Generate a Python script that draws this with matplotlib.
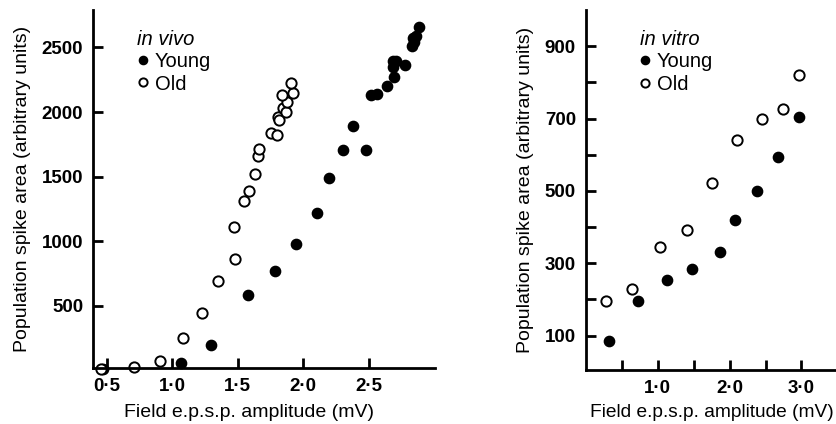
#!/usr/bin/env python3

import matplotlib
matplotlib.use("Agg")
import matplotlib.pyplot as plt
from matplotlib.ticker import FixedLocator

plt.rcParams["font.family"] = ["Liberation Sans", "DejaVu Sans"]

# in vivo panel (field e.p.s.p. in mV, population spike area in arbitrary units)
vivo_young_x = [0.47, 1.067, 1.298, 1.576, 1.785, 1.945, 2.105, 2.199, 2.301, 2.479, 2.382,
                2.518, 2.566, 2.637, 2.691, 2.775, 2.683, 2.706, 2.688, 2.833, 2.848, 2.841, 2.859, 2.884]
vivo_young_y = [10, 56, 196, 588, 771, 980, 1220, 1488, 1705, 1707, 1893,
                2133, 2143, 2203, 2272, 2363, 2396, 2396, 2352, 2512, 2545, 2572, 2590, 2657]
vivo_old_x = [0.46, 0.708, 0.909, 1.085, 1.227, 1.352, 1.479, 1.472, 1.550, 1.584, 1.630,
              1.657, 1.665, 1.752, 1.798, 1.805, 1.815, 1.848, 1.869, 1.874, 1.838, 1.920, 1.909]
vivo_old_y = [15, 30, 74, 250, 443, 693, 866, 1114, 1315, 1393, 1519,
              1663, 1718, 1837, 1826, 1965, 1940, 2030, 2004, 2077, 2133, 2146, 2227]

# in vitro panel
vitro_young_x = [0.324, 0.731, 1.134, 1.476, 1.870, 2.074, 2.384, 2.667, 2.967]
vitro_young_y = [86, 196, 254, 285, 332, 419, 499, 595, 703]
vitro_old_x = [0.278, 0.647, 1.027, 1.407, 1.759, 2.106, 2.458, 2.740, 2.967]
vitro_old_y = [195, 230, 345, 393, 521, 640, 700, 727, 820]

vivo_xticks = [0.5, 1.0, 1.5, 2.0, 2.5]
vivo_yticks = [500, 1000, 1500, 2000, 2500]
vitro_xticks = [0.5, 1.0, 1.5, 2.0, 2.5, 3.0]
vitro_xlabels = ["", "1·0", "", "2·0", "", "3·0"]
vitro_yticks = [100, 300, 500, 700, 900]
vitro_yminor = [200, 400, 600, 800]

XLABEL = "Field e.p.s.p. amplitude (mV)"
YLABEL = "Population spike area (arbitrary units)"


def style_axes(ax):
    for s in ["top", "right"]:
        ax.spines[s].set_visible(False)
    for s in ["left", "bottom"]:
        ax.spines[s].set_linewidth(2.0)
    ax.tick_params(direction="in", length=7, width=2.0, labelsize=13.5, pad=7)
    for lab in ax.get_xticklabels() + ax.get_yticklabels():
        lab.set_fontweight("bold")
    ax.set_ylabel(YLABEL, fontsize=14, labelpad=8)


def scatter_pair(ax, yx, yy, ox, oy, title, anchor):
    ax.plot(yx, yy, "o", color="black", markersize=7.4, linestyle="none", label="Young", clip_on=False)
    ax.plot(ox, oy, "o", markerfacecolor="white", markeredgecolor="black", markeredgewidth=1.4,
            markersize=7.4, linestyle="none", label="Old", clip_on=False)
    leg = ax.legend(loc="upper left", bbox_to_anchor=anchor, frameon=False, title=title,
                    alignment="left", fontsize=14.5, handletextpad=0.3, handlelength=0.55,
                    labelspacing=0.17, borderaxespad=0.0, borderpad=0.0, markerscale=0.8)
    leg.get_title().set_fontsize(14.5)
    leg.get_title().set_fontstyle("italic")
    return leg


fig = plt.figure(figsize=(8.36, 4.24), dpi=100)

# left panel: in vivo
ax1 = fig.add_axes([0.1112, 0.1321, 0.4091, 0.8443])
scatter_pair(ax1, vivo_young_x, vivo_young_y, vivo_old_x, vivo_old_y, "in vivo", (0.13, 0.945))
ax1.set_xlim(0.395, 3.006)
ax1.set_ylim(20, 2790)
ax1.set_xticks(vivo_xticks)
ax1.set_xticklabels([f"{v:.1f}".replace(".", "·") for v in vivo_xticks])
ax1.set_yticks(vivo_yticks)
style_axes(ax1)
fig.text(0.298, 0.026, XLABEL, fontsize=14, ha="center", va="center")

# right panel: in vitro
ax2 = fig.add_axes([0.7006, 0.1274, 0.2994, 0.8490])
scatter_pair(ax2, vitro_young_x, vitro_young_y, vitro_old_x, vitro_old_y, "in vitro", (0.215, 0.945))
ax2.set_xlim(0, 3.48)
ax2.set_ylim(5, 1000)
ax2.set_xticks(vitro_xticks)
ax2.set_xticklabels(vitro_xlabels)
ax2.set_yticks(vitro_yticks)
ax2.yaxis.set_minor_locator(FixedLocator(vitro_yminor))
ax2.tick_params(which="minor", direction="in", length=7, width=2.0)
style_axes(ax2)
fig.text(0.997, 0.026, XLABEL, fontsize=13.8, ha="right", va="center")

fig.savefig("out.png", dpi=100)
